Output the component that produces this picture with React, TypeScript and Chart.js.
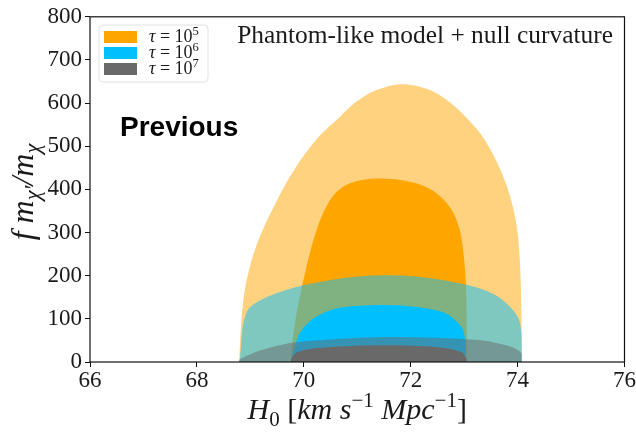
import React, { useEffect, useRef } from "react";
import { Chart, registerables } from "chart.js";

Chart.register(...registerables);

type Pt = [number, number];

// Credible-region boundaries (H0, f m_chi'/m_chi); each region sits on f = 0.
const tau5Outer: Pt[] = [
  [68.79, 0], [68.81, 50], [68.84, 110], [68.9, 170], [69.0, 225], [69.13, 275],
  [69.3, 325], [69.5, 375], [69.72, 425], [69.98, 475], [70.3, 525], [70.65, 565],
  [70.95, 600], [71.3, 627], [71.75, 643], [72.1, 640], [72.45, 625], [72.75, 600],
  [73.05, 565], [73.3, 530], [73.5, 490], [73.68, 445], [73.82, 400], [73.93, 350],
  [74.0, 300], [74.04, 240], [74.06, 180], [74.07, 120], [74.08, 60], [74.08, 0],
];
const tau5Inner: Pt[] = [
  [69.76, 0], [69.79, 50], [69.86, 110], [69.94, 160], [70.03, 210], [70.13, 260],
  [70.25, 310], [70.4, 355], [70.58, 390], [70.82, 412], [71.15, 423], [71.46, 425],
  [71.8, 422], [72.1, 414], [72.4, 398], [72.65, 372], [72.82, 340], [72.93, 300],
  [72.99, 250], [73.03, 190], [73.05, 100], [73.05, 0],
];
const tau6Outer: Pt[] = [
  [68.8, 0], [68.82, 30], [68.85, 75], [68.9, 105], [68.98, 125], [69.15, 141],
  [69.5, 160], [69.9, 175], [70.5, 190], [71.0, 198], [71.55, 201], [72.1, 198],
  [72.6, 190], [73.0, 180], [73.35, 168], [73.65, 150], [73.88, 125], [74.02, 100],
  [74.07, 70], [74.08, 30], [74.08, 0],
];
const tau6Inner: Pt[] = [
  [69.76, 0], [69.78, 12], [69.85, 44], [69.96, 74], [70.22, 104], [70.65, 125],
  [71.46, 132], [72.15, 127], [72.65, 113], [72.95, 81], [73.03, 44], [73.03, 12],
  [73.03, 0],
];
const tau7Outer: Pt[] = [
  [68.78, 0], [68.79, 5], [68.97, 16], [69.21, 28], [69.85, 46], [71.53, 58],
  [73.27, 51], [73.89, 35], [74.07, 21], [74.08, 5], [74.08, 0],
];
const tau7Inner: Pt[] = [
  [69.76, 0], [69.76, 5], [69.85, 21], [70.22, 32], [71.4, 39], [72.47, 35],
  [72.95, 23], [73.05, 5], [73.05, 0],
];

const tauExponents = ["5", "6", "7"];
const seriesColors = ["rgb(255,165,0)", "rgb(0,191,255)", "rgb(105,105,105)"];
const outerFills = ["rgba(255,165,0,0.5)", "rgba(0,191,255,0.5)", "rgba(105,105,105,0.5)"];

const modelLabel = "Phantom-like model + null curvature";
const noteLabel = "Previous";

const SERIF = "'Liberation Serif', 'DejaVu Serif', serif";
const SANS = "'Liberation Sans', Arial, sans-serif";

type Seg = { t: string; it?: boolean; sub?: boolean; sup?: boolean };

const xTitle: Seg[] = [
  { t: "H", it: true }, { t: "0", sub: true }, { t: " [" }, { t: "km", it: true },
  { t: " s", it: true }, { t: "−1", sup: true }, { t: " Mpc", it: true },
  { t: "−1", sup: true }, { t: "]" },
];
const yTitle: Seg[] = [
  { t: "f m", it: true }, { t: "χ′", it: true, sub: true }, { t: "/m", it: true },
  { t: "χ", it: true, sub: true },
];

function segFont(base: number, s: Seg, fam: string) {
  const size = s.sub || s.sup ? base * 0.7 : base;
  return `${s.it ? "italic " : ""}${size}px ${fam}`;
}
function richWidth(ctx: CanvasRenderingContext2D, segs: Seg[], base: number, fam: string) {
  let w = 0;
  for (const s of segs) {
    ctx.font = segFont(base, s, fam);
    w += ctx.measureText(s.t).width;
  }
  return w;
}
function drawRich(ctx: CanvasRenderingContext2D, segs: Seg[], x: number, y: number, base: number, fam: string) {
  let cx = x;
  for (const s of segs) {
    ctx.font = segFont(base, s, fam);
    const dy = s.sub ? base * 0.22 : s.sup ? -base * 0.4 : 0;
    ctx.fillText(s.t, cx, y + dy);
    cx += ctx.measureText(s.t).width;
  }
}

const decorations = {
  id: "decorations",
  afterDraw(chart: any) {
    const ctx: CanvasRenderingContext2D = chart.ctx;
    const a = chart.chartArea;
    ctx.save();
    // frame
    ctx.strokeStyle = "#111";
    ctx.lineWidth = 1.2;
    ctx.strokeRect(a.left, a.top, a.right - a.left, a.bottom - a.top);

    ctx.fillStyle = "#1a1a1a";
    ctx.textBaseline = "alphabetic";
    ctx.textAlign = "left";

    // axis titles
    const xw = richWidth(ctx, xTitle, 30, SERIF);
    drawRich(ctx, xTitle, (a.left + a.right) / 2 - xw / 2, 419, 30, SERIF);

    ctx.save();
    const yw = richWidth(ctx, yTitle, 32, SERIF);
    ctx.translate(33, 192);
    ctx.rotate(-Math.PI / 2);
    drawRich(ctx, yTitle, -yw / 2, 0, 32, SERIF);
    ctx.restore();

    // model label, top right
    ctx.font = `22px ${SERIF}`;
    const mw = ctx.measureText(modelLabel).width;
    const ms = (22 * 376) / mw;
    ctx.font = `${ms}px ${SERIF}`;
    ctx.textAlign = "right";
    ctx.fillText(modelLabel, 613, 43);

    // note
    ctx.textAlign = "left";
    ctx.fillStyle = "#000";
    ctx.font = `bold 28px ${SANS}`;
    ctx.fillText(noteLabel, 120, 136);

    // legend box
    const bx = 99, by = 25, bw = 109, bh = 57, r = 4;
    ctx.beginPath();
    ctx.moveTo(bx + r, by);
    ctx.arcTo(bx + bw, by, bx + bw, by + bh, r);
    ctx.arcTo(bx + bw, by + bh, bx, by + bh, r);
    ctx.arcTo(bx, by + bh, bx, by, r);
    ctx.arcTo(bx, by, bx + bw, by, r);
    ctx.closePath();
    ctx.fillStyle = "rgba(255,255,255,0.85)";
    ctx.fill();
    ctx.strokeStyle = "#e2e2e2";
    ctx.lineWidth = 1;
    ctx.stroke();

    tauExponents.forEach((e, i) => {
      const cy = 37 + i * 16;
      ctx.fillStyle = seriesColors[i];
      ctx.fillRect(104, cy - 6, 33, 12);
      ctx.fillStyle = "#1a1a1a";
      const segs: Seg[] = [{ t: "τ", it: true }, { t: " = 10" }, { t: e, sup: true }];
      drawRich(ctx, segs, 149, cy + 5, 18, SERIF);
    });
    ctx.restore();
  },
};

function region(data: Pt[], color: string, order: number) {
  return {
    data: data.map(([x, y]) => ({ x, y })),
    backgroundColor: color,
    borderColor: "rgba(0,0,0,0)",
    borderWidth: 0,
    pointRadius: 0,
    fill: "origin",
    tension: 0.3,
    order,
  };
}

export default function App() {
  const ref = useRef<HTMLCanvasElement | null>(null);

  useEffect(() => {
    document.body.style.margin = "0";
    if (!ref.current) return;
    const chart = new Chart(ref.current, {
      type: "line",
      data: {
        datasets: [
          region(tau7Inner, seriesColors[2], 0),
          region(tau7Outer, outerFills[2], 1),
          region(tau6Inner, seriesColors[1], 2),
          region(tau6Outer, outerFills[1], 3),
          region(tau5Inner, seriesColors[0], 4),
          region(tau5Outer, outerFills[0], 5),
        ] as any,
      },
      options: {
        animation: false,
        responsive: false,
        maintainAspectRatio: false,
        layout: { padding: { left: 0, top: 16, right: 10, bottom: 0 } },
        plugins: {
          legend: { display: false },
          tooltip: { enabled: false },
          filler: { propagate: false },
        },
        scales: {
          x: {
            type: "linear",
            min: 66,
            max: 76,
            ticks: {
              stepSize: 2,
              color: "#1a1a1a",
              font: { family: SERIF, size: 23 },
              padding: 0,
              maxRotation: 0,
            },
            grid: { drawOnChartArea: false, drawTicks: true, tickLength: 5, color: "#111" },
            border: { display: false },
            afterFit: (s: any) => { s.height = 70; },
          },
          y: {
            type: "linear",
            min: 0,
            max: 800,
            ticks: {
              stepSize: 100,
              color: "#1a1a1a",
              font: { family: SERIF, size: 23 },
              padding: 3,
            },
            grid: { drawOnChartArea: false, drawTicks: true, tickLength: 5, color: "#111" },
            border: { display: false },
            afterFit: (s: any) => { s.width = 90; },
          },
        },
      },
      plugins: [decorations],
    });
    return () => chart.destroy();
  }, []);

  return (
    <div style={{ width: 636, height: 432, background: "#fff" }}>
      <canvas ref={ref} width={636} height={432} style={{ display: "block" }} />
    </div>
  );
}
